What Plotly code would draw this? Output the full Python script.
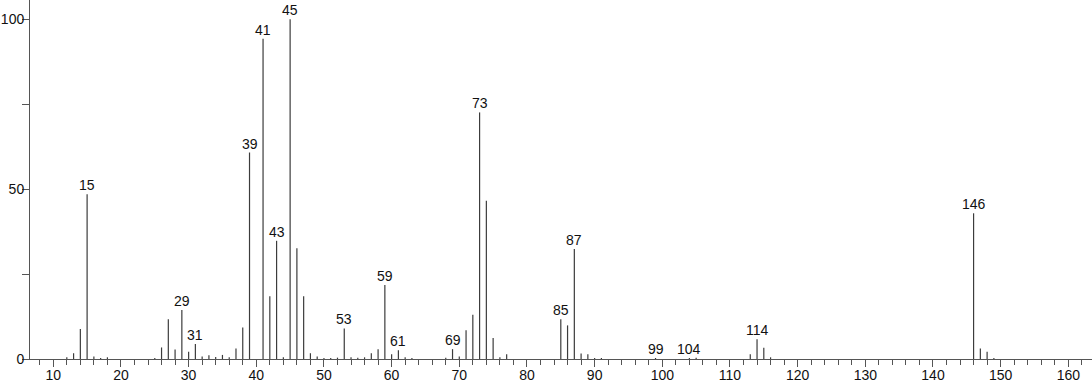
import plotly.graph_objects as go

mz = [12, 13, 14, 15, 16, 17, 18, 25, 26, 27, 28, 29, 30, 31, 32, 33, 34, 35, 36, 37,
      38, 39, 41, 42, 43, 44, 45, 46, 47, 48, 49, 50, 51, 52, 53, 54, 55, 56, 57, 58,
      59, 60, 61, 62, 63, 68, 69, 70, 71, 72, 73, 74, 75, 76, 77, 85, 86, 87, 88, 89,
      90, 91, 99, 104, 105, 113, 114, 115, 116, 146, 147, 148, 149]
intensity = [0.5, 1.7, 8.8, 48.5, 0.7, 0.3, 0.5, 0.3, 3.4, 11.7, 2.8, 14.4, 2.1, 4.4, 0.7, 1.1, 0.6, 1.2, 0.5, 3.1,
             9.3, 60.8, 94.3, 18.5, 34.8, 0.5, 100.0, 32.6, 18.5, 1.7, 0.7, 0.3, 0.3, 0.4, 9.0, 0.5, 0.4, 0.5, 1.7, 2.9,
             21.8, 1.4, 2.6, 0.5, 0.3, 0.4, 2.9, 0.7, 8.5, 13.0, 72.6, 46.6, 6.2, 0.5, 1.4, 11.7, 9.9, 32.4, 1.6, 1.4,
             0.3, 0.3, 0.3, 0.3, 0.4, 1.4, 5.8, 3.3, 0.5, 42.9, 3.1, 2.1, 0.3]
labeled = [15, 29, 31, 39, 41, 43, 45, 53, 59, 61, 69, 73, 85, 87, 99, 104, 114, 146]

FONT = "Liberation Sans, Arial"

xs, ys = [], []
for m, v in zip(mz, intensity):
    xs += [m, m, None]
    ys += [0, v, None]

fig = go.Figure()
fig.add_trace(go.Scatter(x=xs, y=ys, mode="lines",
                         line=dict(color="#3c3c3c", width=1.2),
                         hoverinfo="skip", showlegend=False))

lookup = dict(zip(mz, intensity))
for m in labeled:
    fig.add_annotation(x=m, y=lookup[m], text=str(m), showarrow=False,
                       yanchor="bottom", xanchor="center", yshift=-1,
                       font=dict(size=14, color="#111", family=FONT))

fig.update_layout(
    width=1092, height=384,
    margin=dict(l=30, r=0, t=0, b=25),
    plot_bgcolor="white", paper_bgcolor="white",
    font=dict(family=FONT, size=14, color="#111"),
    xaxis=dict(range=[6.56, 163.5], showgrid=False, zeroline=False, automargin=False,
               showline=True, linecolor="#555", linewidth=1,
               tickmode="linear", tick0=10, dtick=10,
               ticks="outside", ticklen=7, tickcolor="#555", tickwidth=1,
               ticklabelstandoff=-4,
               minor=dict(tickmode="linear", tick0=0, dtick=2, ticks="outside",
                          ticklen=5, tickcolor="#555", tickwidth=1),
               tickfont=dict(size=14, family=FONT)),
    yaxis=dict(range=[0, 105.7], showgrid=False, zeroline=False, automargin=False,
               showline=True, linecolor="#555", linewidth=1,
               tickmode="array", tickvals=[0, 50, 100],
               ticks="outside", ticklen=7, tickcolor="#555", tickwidth=1,
               ticklabelstandoff=-5,
               minor=dict(tickmode="array", tickvals=[25, 75], ticks="outside",
                          ticklen=7, tickcolor="#555", tickwidth=1),
               tickfont=dict(size=14, family=FONT)),
)

fig.write_html("out.html")
